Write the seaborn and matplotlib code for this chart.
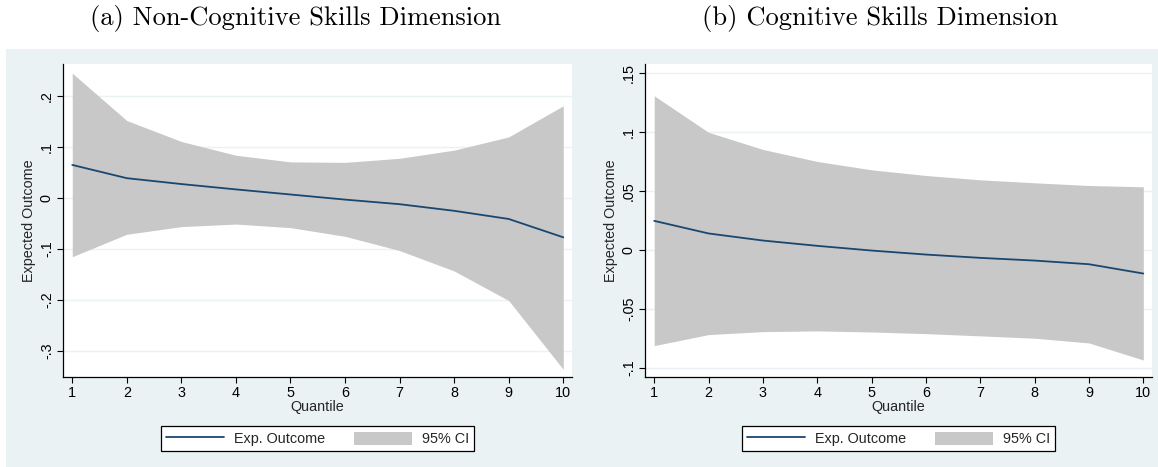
import numpy as np
import pandas as pd
import matplotlib
matplotlib.use("Agg")
import matplotlib.pyplot as plt
from matplotlib.patches import Rectangle
import seaborn as sns

# ---- data ----
quantiles = [1, 2, 3, 4, 5, 6, 7, 8, 9, 10]

noncog_est = [0.065, 0.039, 0.0275, 0.017, 0.007, -0.003, -0.012, -0.025, -0.041, -0.077]
noncog_upper = [0.245, 0.152, 0.111, 0.084, 0.071, 0.070, 0.078, 0.094, 0.120, 0.181]
noncog_lower = [-0.115, -0.071, -0.056, -0.051, -0.058, -0.075, -0.103, -0.143, -0.201, -0.336]

cog_est = [0.0249, 0.0142, 0.0082, 0.0037, -0.0003, -0.0037, -0.0065, -0.0088, -0.0119, -0.0198]
cog_upper = [0.131, 0.100, 0.0855, 0.0753, 0.0682, 0.0634, 0.0597, 0.0572, 0.0549, 0.0538]
cog_lower = [-0.081, -0.0716, -0.0691, -0.0685, -0.0694, -0.0708, -0.0727, -0.0747, -0.0787, -0.0932]

noncog_yticks = [-0.3, -0.2, -0.1, 0.0, 0.1, 0.2]
noncog_yticklabels = ["-.3", "-.2", "-.1", "0", ".1", ".2"]
cog_yticks = [-0.1, -0.05, 0.0, 0.05, 0.1, 0.15]
cog_yticklabels = ["-.1", "-.05", "0", ".05", ".1", ".15"]

titles = ["(a) Non-Cognitive Skills Dimension", "(b) Cognitive Skills Dimension"]
xlabel = "Quantile"
ylabel = "Expected Outcome"
line_label = "Exp. Outcome"
band_label = "95% CI"

# ---- style ----
sns.set_theme(style="white")
plt.rcParams["font.family"] = ["Liberation Sans", "DejaVu Sans"]

NAVY = "#1a476f"
BAND = "#c8c8c8"
BG = "#eaf2f3"
FS = 10.4

W, H = 1158, 467
fig = plt.figure(figsize=(W / 100, H / 100), dpi=100)
fig.patch.set_facecolor("white")
fig.patches.append(Rectangle((6 / W, 0), 1 - 6 / W, (H - 49) / H,
                             transform=fig.transFigure, facecolor=BG,
                             edgecolor="none", zorder=-10))

def px_axes(x0, x1, ytop, ybot):
    return fig.add_axes([x0 / W, (H - ybot) / H, (x1 - x0) / W, (ybot - ytop) / H])

ax1 = px_axes(63, 572, 64, 377)
ax2 = px_axes(645, 1152, 64, 377)

panels = [
    (ax1, noncog_est, noncog_lower, noncog_upper, noncog_yticks, noncog_yticklabels, (-0.351, 0.263), 295),
    (ax2, cog_est, cog_lower, cog_upper, cog_yticks, cog_yticklabels, (-0.1076, 0.158), 880),
]

for i, (ax, est, lo, up, yt, ytl, ylim, tx) in enumerate(panels):
    df = pd.DataFrame({"Quantile": quantiles, "est": est, "lo": lo, "up": up})
    ax.set_facecolor("white")
    ax.fill_between(df["Quantile"], df["lo"], df["up"], color=BAND, linewidth=0,
                    label=band_label, zorder=2)
    sns.lineplot(data=df, x="Quantile", y="est", ax=ax, color=NAVY, linewidth=1.3,
                 label=line_label, zorder=3)
    ax.set_xlim(0.83, 10.16)
    ax.set_ylim(*ylim)
    ax.set_xticks(quantiles)
    ax.set_xticklabels([str(q) for q in quantiles], fontsize=FS)
    ax.set_yticks(yt)
    ax.set_yticklabels(ytl, fontsize=FS, rotation=90, va="center")
    ax.grid(axis="y", color=BG, linewidth=1.0, zorder=0)
    ax.set_axisbelow(True)
    for s in ["top", "right"]:
        ax.spines[s].set_visible(False)
    for s in ["left", "bottom"]:
        ax.spines[s].set_color("black")
        ax.spines[s].set_linewidth(0.9)
    ax.tick_params(axis="both", which="major", direction="out", length=4.5, width=0.8,
                   color="black", labelcolor="black", pad=2,
                   left=True, bottom=True)
    ax.set_xlabel(xlabel, fontsize=FS, labelpad=0)
    ax.set_ylabel(ylabel, fontsize=FS, labelpad=3)

    handles, labels = ax.get_legend_handles_labels()
    order = [labels.index(line_label), labels.index(band_label)]
    leg = ax.legend([handles[j] for j in order], [labels[j] for j in order],
                    loc="center", bbox_to_anchor=(0.5, -0.198), ncol=2,
                    fontsize=FS, frameon=True, fancybox=False, framealpha=1,
                    edgecolor="black", handlelength=4.0, handleheight=1.1,
                    handletextpad=0.7, columnspacing=2.0, borderpad=0.35,
                    borderaxespad=0)
    leg.get_frame().set_linewidth(0.9)

    fig.text(tx / W, (H - 19) / H, titles[i], ha="center", va="center",
             fontsize=19.1, family=["cmr10", "DejaVu Serif"], color="black")

fig.savefig("out.png", dpi=100)
